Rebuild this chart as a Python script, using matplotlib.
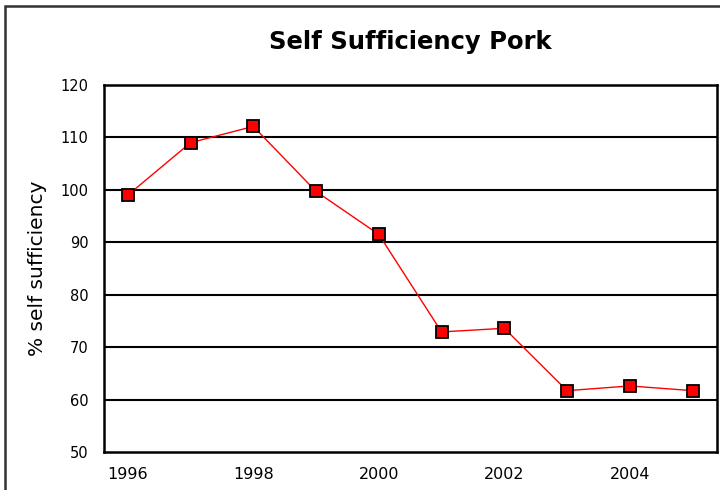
import matplotlib
matplotlib.use("Agg")
import matplotlib.pyplot as plt
from matplotlib.patches import Rectangle

# data
years = [1996, 1997, 1998, 1999, 2000, 2001, 2002, 2003, 2004, 2005]
self_suff = [99.0, 109.0, 112.1, 99.7, 91.5, 72.9, 73.6, 61.7, 62.6, 61.7]
x_ticks = [1996, 1998, 2000, 2002, 2004]
y_ticks = [50, 60, 70, 80, 90, 100, 110, 120]

plt.rcParams["font.family"] = "DejaVu Sans"

fig = plt.figure(figsize=(7.2, 4.9), dpi=100)
fig.patch.set_facecolor("white")

# outer chart frame (runs off the right/bottom of the image)
fig.patches.append(Rectangle((5 / 720, -0.1), 1.2, 1.1 - 6 / 490,
                             transform=fig.transFigure, fill=False,
                             edgecolor="#333333", lw=1.8))

ax = fig.add_axes([104 / 720, 1 - 452 / 490, (717 - 104) / 720, (452 - 85) / 490])

for y in y_ticks[1:-1]:
    ax.axhline(y, color="black", lw=1.5, zorder=1)

ax.plot(years, self_suff, color="#ff0000", lw=1.0, marker="s", markersize=8,
        markerfacecolor="#ff0000", markeredgecolor="black", markeredgewidth=1.3, zorder=3)

ax.set_xlim(1995.62, 2005.39)
ax.set_ylim(50, 120)
ax.set_xticks(x_ticks)
ax.set_yticks(y_ticks)
ax.tick_params(axis="both", length=0, colors="black")
ax.tick_params(axis="x", pad=11, labelsize=11.5)
ax.tick_params(axis="y", pad=11, labelsize=10.5)

for sp in ax.spines.values():
    sp.set_color("black")
    sp.set_linewidth(1.8)

ax.set_ylabel("% self sufficiency", fontsize=14.5, labelpad=10)
ax.set_title("Self Sufficiency Pork", fontsize=17.5, fontweight="bold", pad=26)

fig.savefig("out.png", dpi=100)
